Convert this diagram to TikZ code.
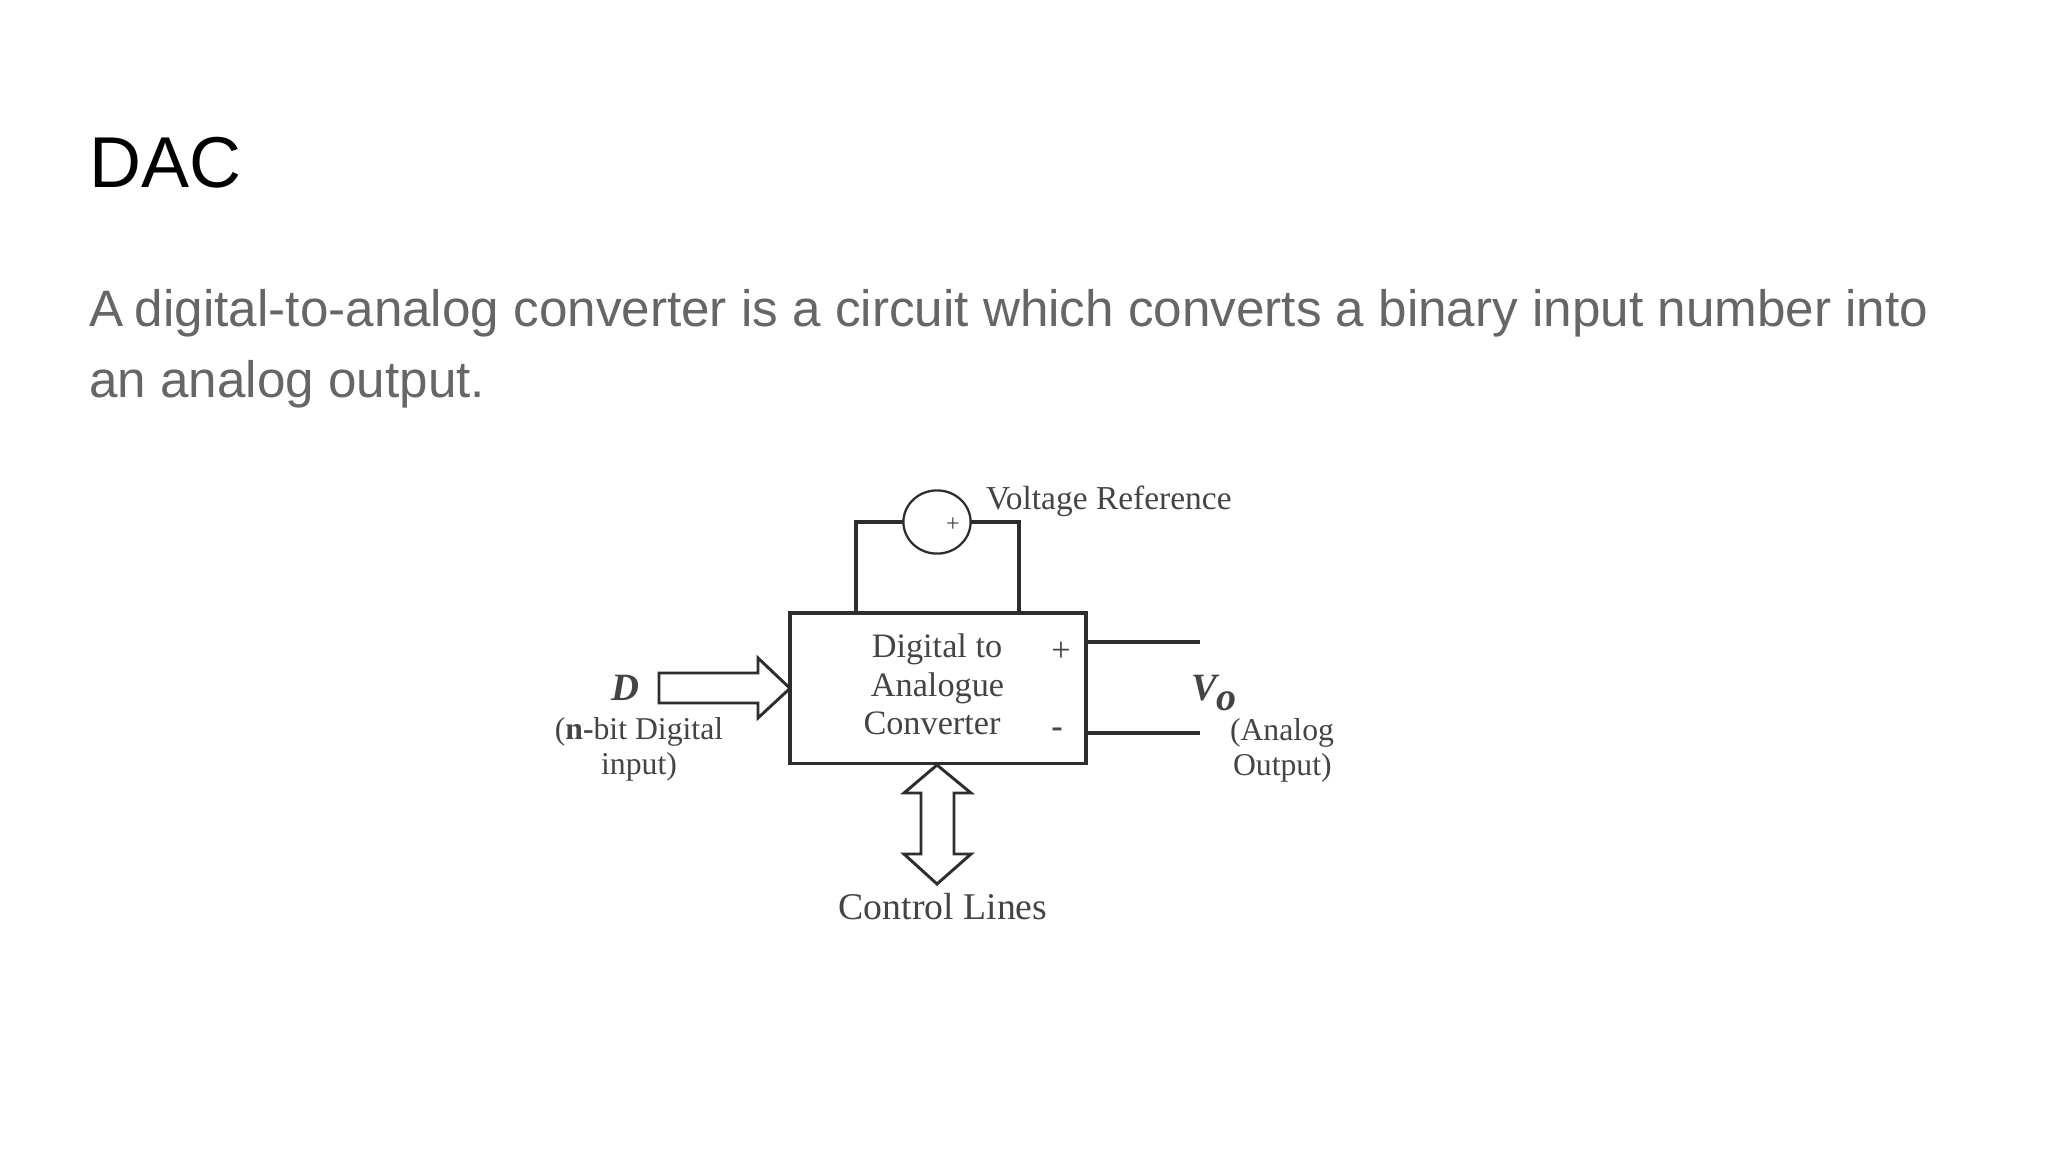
\documentclass[tikz,border=0pt]{standalone}
\usepackage{fontspec}
\usetikzlibrary{shapes.geometric}
\setmainfont{Liberation Sans}
\newfontfamily\diagfont{Liberation Serif}
\definecolor{bodygrey}{HTML}{666666}
\definecolor{inkline}{HTML}{2E2E2E}
\definecolor{inktext}{HTML}{444444}
\tikzset{
  x=0.75pt,y=-0.75pt,
  wire/.style={draw=inkline,line width=2.3pt},
  blockarrow/.style={draw=inkline,line width=2.2pt,fill=white,line join=miter},
  lab/.style={inner sep=0pt,outer sep=0pt,anchor=base,text=inktext},
  labw/.style={lab,anchor=base west},
  dtext/.style={lab,font=\diagfont\fontsize{25.7}{30}\selectfont},
  stext/.style={lab,font=\diagfont\fontsize{23.8}{28}\selectfont},
  swtext/.style={labw,font=\diagfont\fontsize{23.8}{28}\selectfont},
  slidetext/.style={inner sep=0pt,anchor=base west},
}
\begin{document}
\begin{tikzpicture}
\useasboundingbox[fill=white] (0,0) rectangle (2048,1152);
% slide text
\node[slidetext] (title) at (89,188) {\fontsize{54}{60}\selectfont DAC};
\node[slidetext,text=bodygrey] (line1) at (89,326) {\fontsize{38.41}{44}\selectfont A\kern-2pt{} digital-to-analog converter is a circuit which converts a binary input number into};
\node[slidetext,text=bodygrey] (line2) at (89,397) {\fontsize{38.41}{44}\selectfont an analog output.};
% main blocks
\node[wire,rectangle,inner sep=0pt,outer sep=0pt,minimum width=222pt,minimum height=113pt,anchor=north west] (dac) at (790,613) {};
\node[draw=inkline,line width=1.7pt,ellipse,inner sep=0pt,outer sep=0pt,minimum width=50.4pt,minimum height=47.4pt] (vref) at (937,522) {};
% reference loop
\coordinate (tapL) at (856,613);
\coordinate (tapR) at (1019,613);
\draw[wire] (vref.west) -| (tapL);
\draw[wire] (vref.east) -| (tapR);
% outputs
\coordinate (outP) at (1200,642);
\coordinate (outM) at (1200,733);
\draw[wire] (outP -| dac.east) -- (outP);
\draw[wire] (outM -| dac.east) -- (outM);
% input block arrow
\draw[blockarrow] (659,673) -- (758,673) -- (758,658) -- (dac.west) -- (758,718) -- (758,703) -- (659,703) -- cycle;
% control block arrow
\draw[blockarrow] (937,765) -- (971,793) -- (954,793) -- (954,854) -- (971,854) -- (937,884) -- (904,854) -- (921,854) -- (921,793) -- (904,793) -- cycle;
% labels
\node[dtext] (t1) at (937,657) {Digital to};
\node[dtext] (t2) at (937.5,696) {Analogue};
\node[dtext] (t3) at (932,734) {Converter};
\node[lab,anchor=center,font=\diagfont\fontsize{25.7}{30}\selectfont] (plus) at (1061,652) {+};
\node[lab,anchor=center,font=\diagfont\bfseries\fontsize{25.7}{30}\selectfont] (minus) at (1057,733) {-};
\node[lab,anchor=center,font=\diagfont\fontsize{18}{20}\selectfont] (vplus) at (953,524.5) {+};
\node[labw,font=\diagfont\fontsize{25.1}{28}\selectfont] (vrl) at (986,509) {Voltage Reference};
\node[lab,font=\diagfont\bfseries\itshape\fontsize{29}{32}\selectfont] (dl) at (625,700) {D};
\node[stext] (nb) at (639,739) {(\textbf{n-}bit Digital};
\node[stext] (inp) at (639,774) {input)};
\node[labw,font=\diagfont\bfseries\itshape\fontsize{29}{32}\selectfont] (vo) at (1191,700) {V};
\node[labw,font=\diagfont\bfseries\itshape\fontsize{30}{32}\selectfont] (vos) at (1216,710) {o};
\node[swtext] (al) at (1230,740) {(Analog};
\node[swtext] (ou) at (1233,775) {Output)};
\node[lab,font=\diagfont\fontsize{28.3}{32}\selectfont] (cl) at (943,919) {Control Lines};
\end{tikzpicture}
\end{document}
